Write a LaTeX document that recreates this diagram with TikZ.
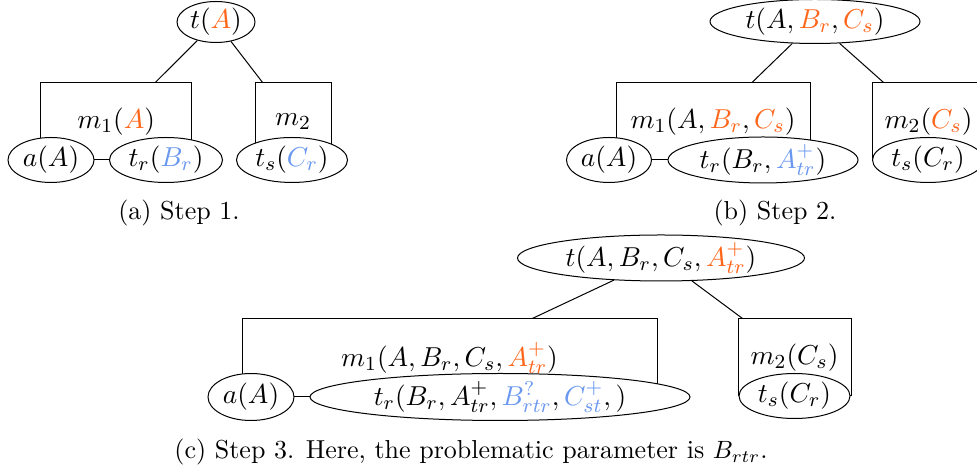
\documentclass[tikz,border=0pt]{standalone}
\usepackage{xcolor}
\usepackage{tikz}
\usetikzlibrary{positioning,calc,shapes.geometric}
\definecolor{Orng}{HTML}{FF661A}
\definecolor{SkyBlu}{HTML}{6A98F0}
\newcommand{\orng}[1]{\textcolor{Orng}{#1}}
\newcommand{\blu}[1]{\textcolor{SkyBlu}{#1}}
\begin{document}
\begin{tikzpicture}[x=0.4pt, y=-0.4pt, font=\fontsize{11.4}{13}\selectfont, line width=0.4pt]
\tikzset{grp/.style={draw, rectangle, inner sep=0pt, minimum height=30.8pt}, lbl/.style={draw, ellipse, fill=white, inner sep=0pt, minimum height=18pt}, subcap/.style={font=\fontsize{10.4}{12}\selectfont}}
\useasboundingbox (0,0) rectangle (977,470);
\clip (0,0) rectangle (977,470);
\node[grp, minimum width=60.4pt] (ma1) at (116.2,121.5) {$m_1(\orng{A})$};
\node[grp, minimum width=30.4pt] (ma2) at (293,121.5) {$m_2$};
\node[lbl, minimum width=31.2pt, minimum height=16.4pt] (ta) at (216,22) {$t(\orng{A})$};
\node[lbl, minimum width=34.4pt] (aa) at (51,160) {$a(A)$};
\node[lbl, minimum width=45.2pt] (tra) at (166,160) {$t_r(\blu{B_r})$};
\node[lbl, minimum width=44.4pt] (tsa) at (292,160) {$t_s(\blu{C_r})$};
\node[subcap] (capa) at (179,213) {(a) Step 1.};
\node[grp, minimum width=77.6pt] (mb1) at (713,121.5) {$m_1(A, \orng{B_r}, \orng{C_s})$};
\node[grp, minimum width=45.2pt] (mb2) at (928.5,121.5) {$m_2(\orng{C_s})$};
\node[lbl, minimum width=84pt, minimum height=17.6pt] (tb) at (815,21.5) {$t(A, \orng{B_r}, \orng{C_s})$};
\node[lbl, minimum width=34pt] (ab) at (609,160) {$a(A)$};
\node[lbl, minimum width=76pt, minimum height=18.4pt] (trb) at (763,160) {$t_r(B_r, \blu{A^+_{tr}})$};
\node[lbl, minimum width=44.4pt] (tsb) at (928,160) {$t_s(C_r)$};
\node[subcap] (capb) at (775,213) {(b) Step 2.};
\node[grp, minimum width=166pt, minimum height=31.2pt] (mc1) at (449.5,358) {$m_1(A, B_r, C_s, \orng{A^+_{tr}})$};
\node[grp, minimum width=45.2pt] (mc2) at (794.5,357.5) {$m_2(C_s)$};
\node[lbl, minimum width=114.8pt, minimum height=18.4pt] (tc) at (661,258) {$t(A, B_r, C_s, \orng{A^+_{tr}})$};
\node[lbl, minimum width=34.4pt, minimum height=18.8pt] (ac) at (251,397) {$a(A)$};
\node[lbl, minimum width=152pt, minimum height=18.8pt] (trc) at (500,397) {$t_r(B_r, A^+_{tr}, \blu{B^?_{rtr}}, \blu{C^+_{st}},)$};
\node[lbl, minimum width=44.4pt] (tsc) at (794.5,396) {$t_s(C_r)$};
\node[subcap] (capc) at (471,452) {(c) Step 3. Here, the problematic parameter is $B_{rtr}$.};
\foreach \t/\m/\f in {ta/ma1/.757,ta/ma2/.105,tb/mb1/.70,tb/mb2/.106,tc/mc1/.699,tc/mc2/.044} \draw (\t) -- ($(\m.north west)!\f!(\m.north east)$);
\foreach \x/\y in {aa/tra,ab/trb,ac/trc} \draw (\x) -- (\y);
\end{tikzpicture}
\end{document}
